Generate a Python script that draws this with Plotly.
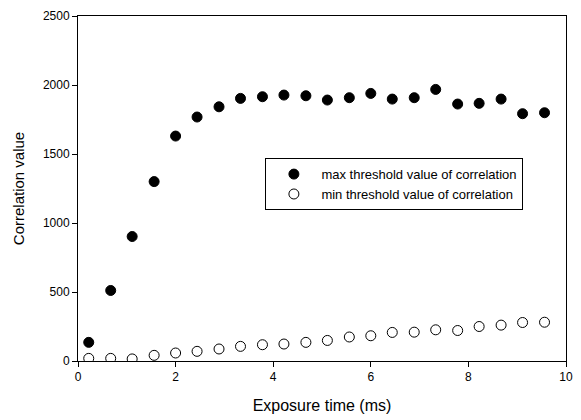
import plotly.graph_objects as go

exposure_ms = [0.22, 0.67, 1.11, 1.56, 2.0, 2.44, 2.89, 3.33, 3.78, 4.22, 4.67,
               5.11, 5.56, 6.0, 6.44, 6.89, 7.33, 7.78, 8.22, 8.67, 9.11, 9.56]
max_threshold = [135, 511, 902, 1300, 1630, 1768, 1842, 1903, 1915, 1927, 1922,
                 1891, 1908, 1939, 1898, 1908, 1968, 1862, 1867, 1898, 1792, 1799]
min_threshold = [19, 19, 15, 41, 58, 70, 87, 106, 118, 123, 135,
                 149, 174, 183, 207, 209, 226, 221, 250, 260, 279, 281]

fig = go.Figure()
fig.add_trace(go.Scatter(
    x=exposure_ms, y=max_threshold, mode="markers",
    name="max threshold value of correlation",
    marker=dict(symbol="circle", size=10, color="black", line=dict(color="black", width=1)),
))
fig.add_trace(go.Scatter(
    x=exposure_ms, y=min_threshold, mode="markers",
    name="min threshold value of correlation",
    marker=dict(symbol="circle", size=10, color="white", line=dict(color="black", width=1)),
))

font_family = "Liberation Sans, Arial, sans-serif"
fig.update_layout(
    width=581, height=420,
    margin=dict(l=78, r=8, t=16, b=59),
    paper_bgcolor="white", plot_bgcolor="white",
    font=dict(family=font_family, size=12, color="black"),
    showlegend=True,
    legend=dict(
        x=0.384, y=0.588, xanchor="left", yanchor="top",
        bgcolor="white", bordercolor="black", borderwidth=1,
        font=dict(size=13, family=font_family, color="black"),
        itemwidth=45,
        tracegroupgap=2,
    ),
    xaxis=dict(
        range=[0, 10], tickvals=[0, 2, 4, 6, 8, 10],
        showgrid=False, zeroline=False,
        showline=True, linecolor="black", linewidth=1, mirror=True,
        ticks="outside", ticklen=5, tickcolor="black",
        tickfont=dict(size=12, family=font_family, color="black"),
        title=dict(text="Exposure time (ms)", font=dict(size=16, family=font_family, color="black"), standoff=16),
    ),
    yaxis=dict(
        range=[0, 2500], tickvals=[0, 500, 1000, 1500, 2000, 2500],
        showgrid=False, zeroline=False,
        showline=True, linecolor="black", linewidth=1, mirror=True,
        ticks="outside", ticklen=5, tickcolor="black",
        tickfont=dict(size=12, family=font_family, color="black"),
        title=dict(text="Correlation value", font=dict(size=15, family=font_family, color="black"), standoff=14),
    ),
)

fig.write_html("out.html")
